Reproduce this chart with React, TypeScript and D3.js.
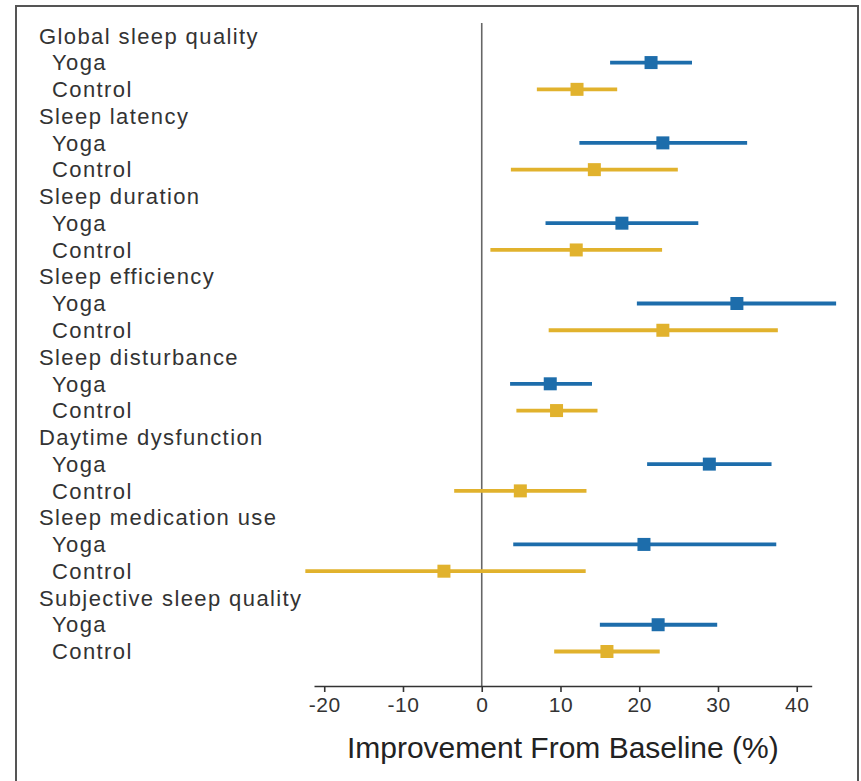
import { useEffect, useRef } from "react";
import * as d3 from "d3";

// outcome groups, in order from top to bottom
const outcomes = [
  "Global sleep quality",
  "Sleep latency",
  "Sleep duration",
  "Sleep efficiency",
  "Sleep disturbance",
  "Daytime dysfunction",
  "Sleep medication use",
  "Subjective sleep quality",
];
const arms = ["Yoga", "Control"];

// % improvement from baseline: point estimate and 95% CI
const yogaMean = [21.5, 23.0, 17.8, 32.4, 8.7, 28.9, 20.6, 22.4];
const yogaLow = [16.3, 12.4, 8.1, 19.7, 3.6, 21.0, 4.0, 15.0];
const yogaHigh = [26.7, 33.7, 27.5, 45.0, 14.0, 36.8, 37.4, 29.9];

const controlMean = [12.1, 14.3, 12.0, 23.0, 9.5, 4.9, -4.8, 15.9];
const controlLow = [7.0, 3.7, 1.1, 8.5, 4.4, -3.5, -22.4, 9.2];
const controlHigh = [17.2, 24.9, 22.9, 37.6, 14.7, 13.3, 13.2, 22.6];

const xTicks = [-20, -10, 0, 10, 20, 30, 40];

const W = 861;
const H = 781;
const colors: Record<string, string> = { Yoga: "#1d6dab", Control: "#e1b22d" };
const font = "Arial, 'Liberation Sans', Helvetica, sans-serif";

export default function App() {
  const axisRef = useRef<SVGGElement>(null);

  // one row per header plus one per arm
  const rows: { key: string; label: string; arm?: string; idx: number }[] = [];
  outcomes.forEach((o, i) => {
    rows.push({ key: o, label: o, idx: i });
    arms.forEach((a) => rows.push({ key: o + "|" + a, label: a, arm: a, idx: i }));
  });

  const x = d3.scaleLinear().domain([-21.3, 41.9]).range([314, 811.7]);
  const y = d3
    .scalePoint<string>()
    .domain(rows.map((r) => r.key))
    .range([35.8, 651.5]);

  const axisY = 686;

  useEffect(() => {
    const g = d3.select(axisRef.current);
    g.selectAll("*").remove();
    g.call(
      d3
        .axisBottom(x)
        .tickValues(xTicks)
        .tickSize(6)
        .tickSizeOuter(0)
        .tickPadding(5)
        .tickFormat((d) => String(d))
    );
    g.select(".domain").attr("stroke", "#333").attr("stroke-width", 1.6);
    g.selectAll(".tick line").attr("stroke", "#333").attr("stroke-width", 1.6);
    g.selectAll(".tick text")
      .attr("font-family", font)
      .attr("font-size", 21)
      .attr("fill", "#333")
      .attr("letter-spacing", 0.5);
  }, []);

  const points = rows
    .filter((r) => r.arm)
    .map((r) => {
      const yoga = r.arm === "Yoga";
      return {
        key: r.key,
        arm: r.arm as string,
        mean: yoga ? yogaMean[r.idx] : controlMean[r.idx],
        lo: yoga ? yogaLow[r.idx] : controlLow[r.idx],
        hi: yoga ? yogaHigh[r.idx] : controlHigh[r.idx],
      };
    });

  return (
    <svg
      width={W}
      height={H}
      style={{ position: "absolute", left: 0, top: 0, background: "#fff" }}
    >
      <rect x={16} y={6} width={842} height={H + 10} fill="#fff" stroke="#555" strokeWidth={2} />

      {rows.map((r) => (
        <text
          key={r.key}
          x={r.arm ? 52 : 39}
          y={y(r.key)}
          dy="0.35em"
          fontFamily={font}
          fontSize={22}
          letterSpacing={1.4}
          fill="#333"
        >
          {r.label}
        </text>
      ))}

      <line x1={x(0)} x2={x(0)} y1={23} y2={axisY} stroke="#666" strokeWidth={1.6} />

      {points.map((p) => (
        <g key={p.key} transform={`translate(0,${y(p.key)})`}>
          <line x1={x(p.lo)} x2={x(p.hi)} stroke={colors[p.arm]} strokeWidth={3.8} />
          <rect x={x(p.mean) - 6.5} y={-6.5} width={13} height={13} fill={colors[p.arm]} />
        </g>
      ))}

      <g ref={axisRef} transform={`translate(0,${axisY})`} />

      <text
        x={(x.range()[0] + x.range()[1]) / 2}
        y={758}
        textAnchor="middle"
        fontFamily={font}
        fontSize={30}
        fill="#222"
      >
        Improvement From Baseline (%)
      </text>
    </svg>
  );
}
